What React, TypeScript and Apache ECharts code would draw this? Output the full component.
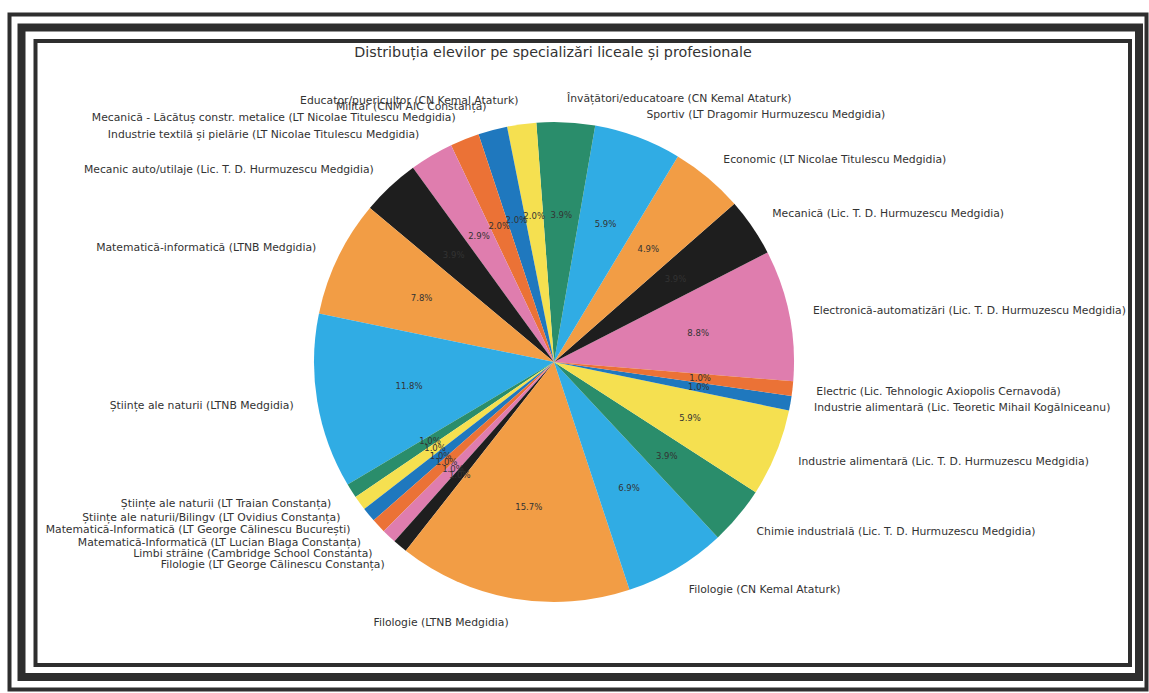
import React, { useEffect, useRef } from "react";
import * as echarts from "echarts";

const categories: string[] = [
  "Electronică-automatizări (Lic. T. D. Hurmuzescu Medgidia)",
  "Mecanică (Lic. T. D. Hurmuzescu Medgidia)",
  "Economic (LT Nicolae Titulescu Medgidia)",
  "Sportiv (LT Dragomir Hurmuzescu Medgidia)",
  "Învățători/educatoare (CN Kemal Ataturk)",
  "Educator/puericultor (CN Kemal Ataturk)",
  "Militar (CNM AIC Constanța)",
  "Mecanică - Lăcătuș constr. metalice (LT Nicolae Titulescu Medgidia)",
  "Industrie textilă și pielărie (LT Nicolae Titulescu Medgidia)",
  "Mecanic auto/utilaje (Lic. T. D. Hurmuzescu Medgidia)",
  "Matematică-informatică (LTNB Medgidia)",
  "Științe ale naturii (LTNB Medgidia)",
  "Științe ale naturii (LT Traian Constanța)",
  "Științe ale naturii/Bilingv (LT Ovidius Constanța)",
  "Matematică-Informatică (LT George Călinescu București)",
  "Matematică-Informatică (LT Lucian Blaga Constanța)",
  "Limbi străine (Cambridge School Constanta)",
  "Filologie (LT George Călinescu Constanța)",
  "Filologie (LTNB Medgidia)",
  "Filologie (CN Kemal Ataturk)",
  "Chimie industrială (Lic. T. D. Hurmuzescu Medgidia)",
  "Industrie alimentară (Lic. T. D. Hurmuzescu Medgidia)",
  "Industrie alimentară (Lic. Teoretic Mihail Kogălniceanu)",
  "Electric (Lic. Tehnologic Axiopolis Cernavodă)",
];

const counts: number[] = [9, 4, 5, 6, 4, 2, 2, 2, 3, 4, 8, 12, 1, 1, 1, 1, 1, 1, 16, 7, 4, 6, 1, 1];

const palette: string[] = [
  "#DF7DAE",
  "#1E1E1E",
  "#F29D45",
  "#30ACE4",
  "#2A8D6B",
  "#F5E050",
  "#1F78BE",
  "#EB7236",
];

const titleText = "Distribuția elevilor pe specializări liceale și profesionale";

export default function App() {
  const ref = useRef<HTMLDivElement>(null);

  useEffect(() => {
    if (!ref.current) return;
    const chart = echarts.init(ref.current, null, { renderer: "svg" });
    const total = counts.reduce((a, b) => a + b, 0);
    const font = "DejaVu Sans";
    const data = categories.map((name, i) => ({
      name,
      value: counts[i],
      itemStyle: { color: palette[i % palette.length] },
    }));
    const ghost = categories.map((name, i) => ({
      name,
      value: counts[i],
      itemStyle: { color: "rgba(0,0,0,0)" },
    }));

    const frame = (x: number, y: number, w: number, h: number, lw: number) => ({
      type: "rect",
      shape: { x, y, width: w, height: h },
      style: { fill: "none", stroke: "#2e2e2e", lineWidth: lw },
      silent: true,
      z: 10,
    });

    chart.setOption({
      animation: false,
      backgroundColor: "#ffffff",
      graphic: [
        frame(9.5, 14.5, 1137, 675, 4),
        frame(21.5, 27.5, 1117.5, 649.5, 8),
        frame(35.5, 41, 1094.5, 624, 4),
        {
          type: "text",
          x: 553,
          y: 52,
          style: {
            text: titleText,
            fontFamily: font,
            fontSize: 14.3,
            fill: "#333",
            textAlign: "center",
            textVerticalAlign: "middle",
          },
          silent: true,
        },
      ],
      series: [
        {
          type: "pie",
          center: [554, 362],
          radius: 240,
          startAngle: -4.6,
          clockwise: false,
          avoidLabelOverlap: false,
          minShowLabelAngle: 0,
          silent: true,
          data,
          itemStyle: { borderWidth: 0 },
          label: {
            show: true,
            position: "outside",
            formatter: "{b}",
            fontFamily: font,
            fontSize: 10.8,
            color: "#333",
            distanceToLabelLine: 0,
          },
          labelLine: { show: false, length: 24, length2: 0 },
          labelLayout: { hideOverlap: false },
          emphasis: { disabled: true },
          z: 2,
        },
        {
          type: "pie",
          center: [554, 362],
          radius: 288,
          startAngle: -4.6,
          clockwise: false,
          avoidLabelOverlap: false,
          minShowLabelAngle: 0,
          silent: true,
          data: ghost,
          itemStyle: { borderWidth: 0 },
          label: {
            show: true,
            position: "inside",
            formatter: (p: any) => ((p.value / total) * 100).toFixed(1) + "%",
            fontFamily: font,
            fontSize: 8.5,
            color: "#333",
            textBorderWidth: 0,
          },
          labelLine: { show: false },
          labelLayout: { hideOverlap: false },
          emphasis: { disabled: true },
          z: 3,
        },
      ],
    });
    return () => chart.dispose();
  }, []);

  return (
    <div
      ref={ref}
      style={{ position: "fixed", left: 0, top: 0, width: 1149, height: 693 }}
    />
  );
}
